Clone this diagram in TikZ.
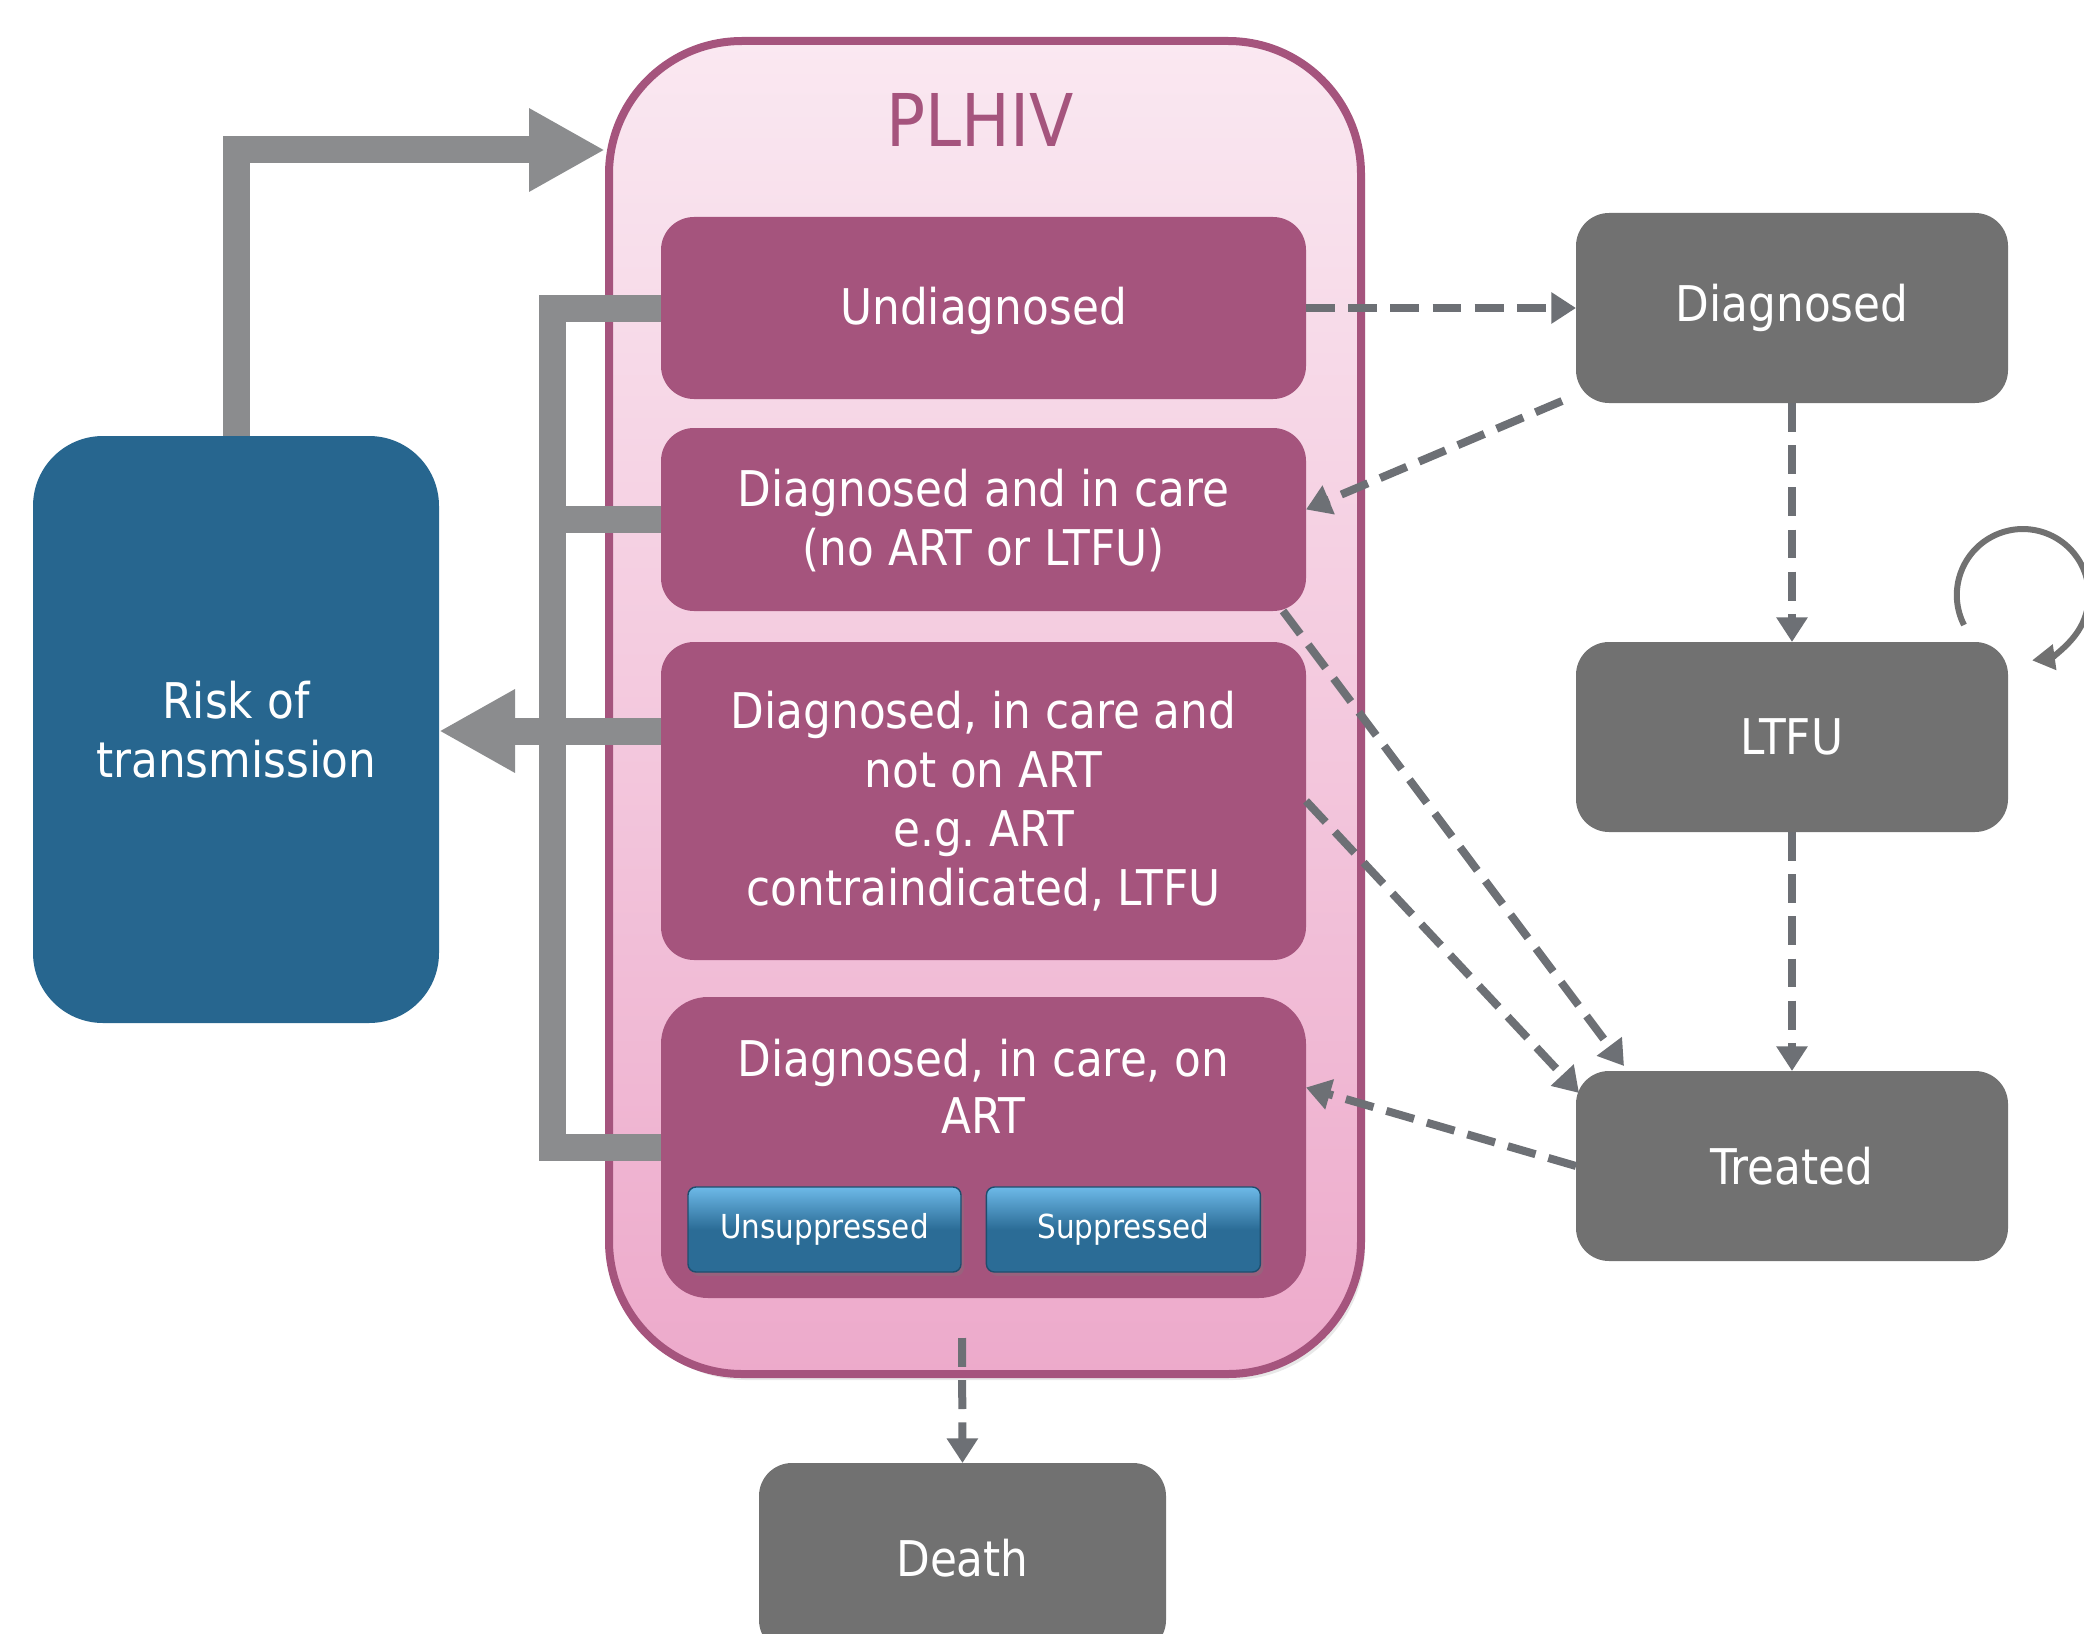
\documentclass[tikz,border=0pt]{standalone}
\usepackage{fontspec}
\setmainfont{DejaVu Sans}[FakeStretch=0.89]
\usepackage{xcolor}
\usetikzlibrary{arrows.meta,positioning,shadows}

\definecolor{plum}{HTML}{A5547D}
\definecolor{pinktop}{HTML}{FAE8F1}
\definecolor{pinkbot}{HTML}{EDAACB}
\definecolor{riskblue}{HTML}{27668F}
\definecolor{stategrey}{HTML}{717171}
\definecolor{pipegrey}{HTML}{8B8C8E}
\definecolor{dashgrey}{HTML}{6D7075}
\definecolor{btnblue}{HTML}{2B6C96}
\definecolor{btnhi}{HTML}{6DB9E8}
\definecolor{btnline}{HTML}{1E4E6E}

\begin{document}
\begin{tikzpicture}[
  txt/.style={font=\fontsize{14}{16.8}\selectfont, text=white, align=center},
  outer/.style={draw=plum, line width=0.08cm, rounded corners=1.33cm,
                top color=pinktop, bottom color=pinkbot,
                minimum width=7.52cm, minimum height=13.33cm,
                drop shadow={opacity=0.18, shadow xshift=0.04cm, shadow yshift=-0.06cm}},
  sub/.style={txt, fill=plum, rounded corners=0.33cm, minimum width=6.45cm,
              minimum height=1.82cm, inner sep=0pt, outer sep=0pt, text depth=0.05cm},
  state/.style={txt, fill=stategrey, rounded corners=0.33cm, minimum width=4.32cm,
                minimum height=1.9cm, inner sep=0pt, outer sep=0pt},
  risk/.style={txt, fill=riskblue, rounded corners=0.7cm, minimum width=4.06cm,
               minimum height=5.87cm, inner sep=0pt, outer sep=0pt},
  btn/.style={draw=btnline, line width=0.4pt, rounded corners=0.08cm,
              top color=btnhi, bottom color=btnblue, middle color=btnblue,
              minimum width=2.73cm, minimum height=0.85cm, inner sep=0pt,
              text=white, font=\fontsize{9.4}{11}\selectfont,
              drop shadow={opacity=0.3, shadow xshift=0.03cm, shadow yshift=-0.04cm}},
  pipe/.style={draw=pipegrey, line width=0.27cm, line join=miter},
  bigarr/.style={pipe, -{Triangle[length=0.76cm, width=0.78cm]}},
  flow/.style={draw=dashgrey, line width=0.08cm, dash pattern=on 8.2pt off 3.8pt,
               -{Triangle[length=7pt, width=8.5pt]}},
  selfloop/.style={draw=stategrey, line width=0.06cm, -{Triangle[length=6.5pt, width=7pt]}}
]
\useasboundingbox (0,0) rectangle (20.84,-16.34);

% PLHIV container
\node[outer] (plhiv) at (9.85,-7.075) {};
\node[font=\fontsize{20.7}{24}\selectfont, text=plum] (plhivlbl) at (9.80,-1.20) {PLHIV};

% states inside PLHIV
\node[sub] (undiag) at (9.835,-3.08) {Undiagnosed};
\node[sub, below=0.29cm of undiag, minimum height=1.83cm] (incare) {Diagnosed and in care\\(no ART or LTFU)};
\node[sub, below=0.31cm of incare, minimum height=3.18cm] (noart) {Diagnosed, in care and\\not on ART\\e.g.\ ART\\contraindicated, LTFU};
\node[sub, below=0.37cm of noart, minimum height=3.01cm, rounded corners=0.47cm] (onart) {};
\node[txt, font=\fontsize{14}{16.2}\selectfont, below=0.30cm of onart.north] (onartlbl) {Diagnosed, in care, on\\ART};
\node[btn] (unsup) at (8.245,-12.295) {Unsuppressed};
\node[btn, right=0.24cm of unsup, minimum width=2.74cm] (sup) {Suppressed};

% outside states
\node[risk] (risk) at (2.36,-7.295) {Risk of\\transmission};
\node[state] (dx) at (17.92,-3.08) {Diagnosed};
\node[state, below=2.39cm of dx] (ltfu) {LTFU};
\node[state, below=2.39cm of ltfu] (treated) {Treated};
\node[state, minimum width=4.07cm] (death) at (9.625,-15.58) {Death};

% transmission loop
\coordinate (bx) at (5.52,0);
\draw[pipe] (undiag.west) -- (undiag.west -| bx) -- (bx |- onart.west) -- (onart.west);
\draw[pipe] (incare.west) -- (incare.west -| bx);
\draw[bigarr] (noart.west |- 0,-7.31) -- (risk.east |- 0,-7.31);
\draw[bigarr] (risk.north) |- (plhiv.west |- 0,-1.50);

% transitions
\coordinate (deathsrc) at (9.62,-13.38);
\draw[flow] (undiag.east) -- (dx.west);
\draw[flow] ([shift={(-0.14,0.02)}]dx.south west) -- ([yshift=0.10cm]incare.east);
\draw[flow] (dx) -- (ltfu);
\draw[flow] (ltfu) -- (treated);
\draw[flow] ([xshift=-0.23cm]incare.south east) -- ([shift={(0.48,0.05)}]treated.north west);
\draw[flow] (noart.east) -- ([shift={(0.03,-0.22)}]treated.north west);
\draw[flow] (treated.west) -- ([yshift=0.60cm]onart.east);
\draw[flow] (deathsrc) -- (death.north);
\draw[selfloop] ([shift={(-0.44,0.17)}]ltfu.north east) arc[start angle=207, end angle=-82, radius=0.66];
\end{tikzpicture}
\end{document}
